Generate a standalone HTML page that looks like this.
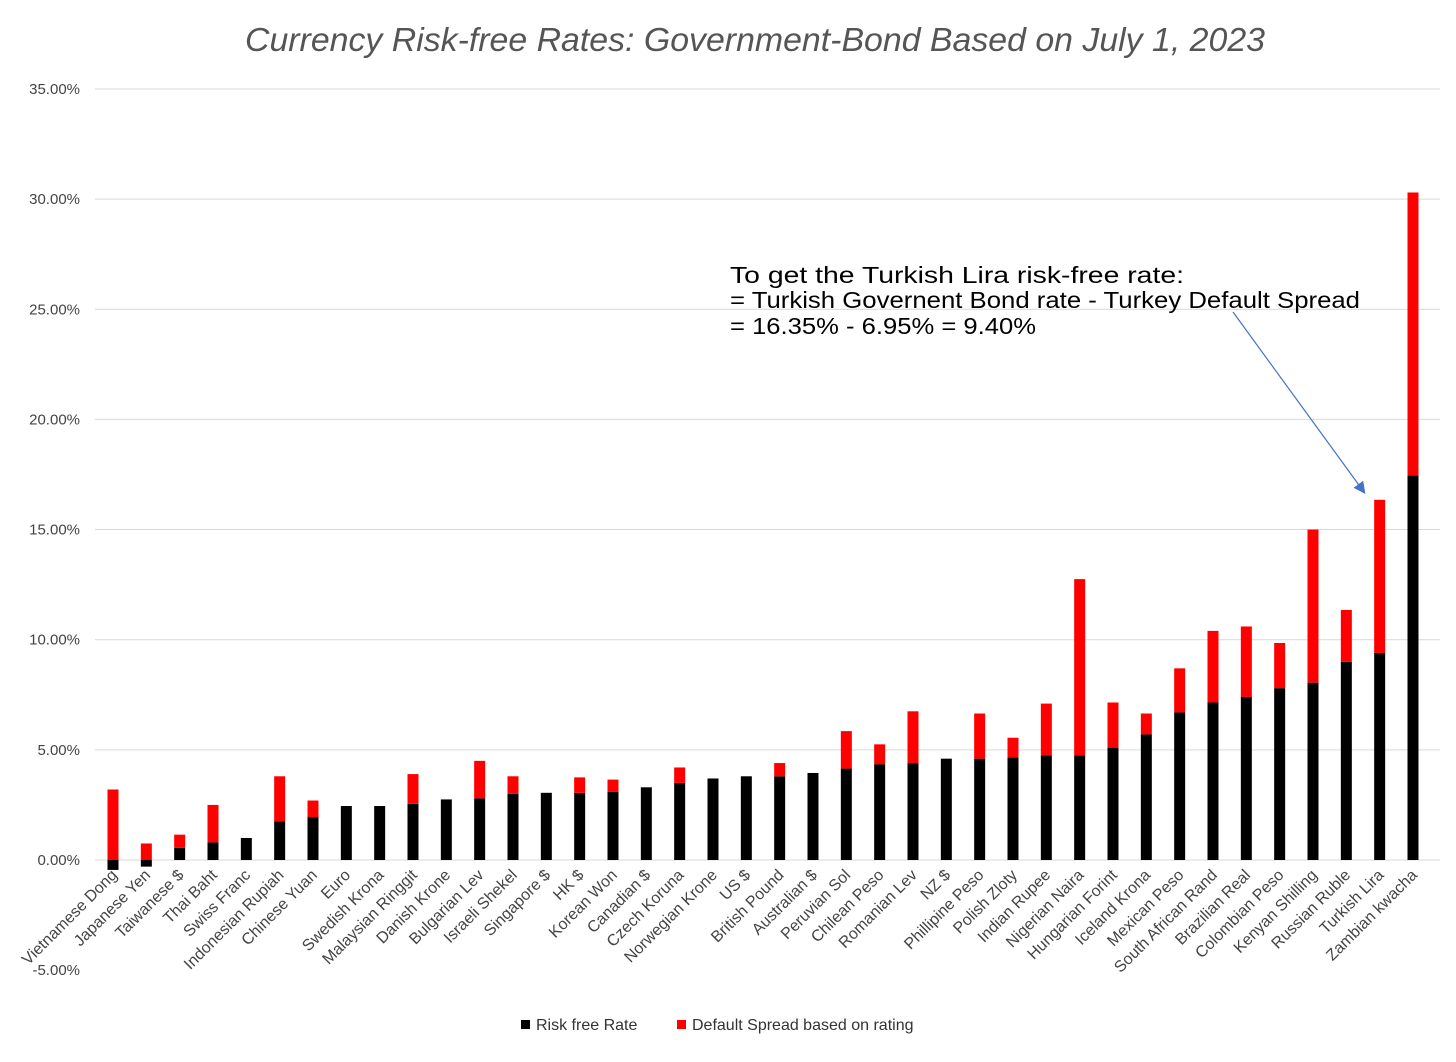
<!DOCTYPE html>
<html><head><meta charset="utf-8"><style>
body{margin:0;background:#fff;width:1456px;height:1057px;overflow:hidden}
svg text{font-family:"Liberation Sans",Arial,sans-serif}
</style></head><body>
<svg id="c" width="1456" height="1057">
<text x="245" y="51" textLength="1020" lengthAdjust="spacingAndGlyphs" font-size="33" font-style="italic" fill="#555">Currency Risk-free Rates: Government-Bond Based on July 1, 2023</text>
<g id="grid"></g><g id="bars"></g><g id="labels"></g>
<g font-size="23" fill="#000">
<text x="730" y="283" textLength="454" lengthAdjust="spacingAndGlyphs">To get the Turkish Lira risk-free rate:</text>
<text x="730" y="308" textLength="630" lengthAdjust="spacingAndGlyphs">= Turkish Governent Bond rate - Turkey Default Spread</text>
<text x="730" y="334" textLength="306" lengthAdjust="spacingAndGlyphs">= 16.35% - 6.95% = 9.40%</text>
</g>
<defs><marker id="ah" markerWidth="10" markerHeight="10" refX="8" refY="5" orient="auto"><path d="M0,0 L10,5 L0,10 z" fill="#4472C4"/></marker></defs>
<line x1="1233" y1="312" x2="1364" y2="492" stroke="#4472C4" stroke-width="1.2" marker-end="url(#ah)"/>
<g font-size="16" fill="#333">
<rect x="521" y="1020" width="9" height="9" fill="#000"/>
<text x="536" y="1030">Risk free Rate</text>
<rect x="677" y="1020" width="9" height="9" fill="#f00"/>
<text x="692" y="1030">Default Spread based on rating</text>
</g>
</svg>
<script>
const categories=["Vietnamese Dong","Japanese Yen","Taiwanese $","Thai Baht","Swiss Franc","Indonesian Rupiah","Chinese Yuan","Euro","Swedish Krona","Malaysian Ringgit","Danish Krone","Bulgarian Lev","Israeli Shekel","Singapore $","HK $","Korean Won","Canadian $","Czech Koruna","Norwegian Krone","US $","British Pound","Australian $","Peruvian Sol","Chilean Peso","Romanian Lev","NZ $","Phillipine Peso","Polish Zloty","Indian Rupee","Nigerian Naira","Hungarian Forint","Iceland Krona","Mexican Peso","South African Rand","Brazilian Real","Colombian Peso","Kenyan Shilling","Russian Ruble","Turkish Lira","Zambian kwacha"];
const riskFree=[-0.45,-0.3,0.55,0.8,1.0,1.75,1.95,2.45,2.45,2.55,2.75,2.8,3.0,3.05,3.05,3.1,3.3,3.5,3.7,3.8,3.8,3.95,4.15,4.35,4.4,4.6,4.6,4.65,4.75,4.75,5.1,5.7,6.7,7.15,7.4,7.8,8.05,9.0,9.4,17.45];
const spread=[3.2,0.75,0.6,1.7,0,2.05,0.75,0,0,1.35,0,1.7,0.8,0,0.7,0.55,0,0.7,0,0,0.6,0,1.7,0.9,2.35,0,2.05,0.9,2.35,8.0,2.05,0.95,2.0,3.25,3.2,2.05,6.95,2.35,6.95,12.85];
const yTicks=[-5,0,5,10,15,20,25,30,35];
const NS="http://www.w3.org/2000/svg";
const y=v=>860-v*22.03;
const x=i=>113+i*(1300/(categories.length-1));
function mk(t,a,p){const e=document.createElementNS(NS,t);for(const k in a)e.setAttribute(k,a[k]);p.appendChild(e);return e;}
const grid=document.getElementById('grid'),bars=document.getElementById('bars'),labels=document.getElementById('labels');
yTicks.forEach(t=>{
 if(t>-5){const l=mk('line',{x1:95,x2:1440,y1:y(t),y2:y(t),stroke:'#d9d9d9','stroke-width':1},grid);
 
 }
 const tx=mk('text',{x:80,y:y(t)+5,'text-anchor':'end','font-size':15,fill:'#444'},grid);
 tx.textContent=t.toFixed(2)+'%';
 
 
});
const w=11;
categories.forEach((c,i)=>{
 const rf=riskFree[i],sp=spread[i],cx=x(i);
 const b=mk('rect',{x:cx-w/2,y:Math.min(y(rf),y(0)),width:w,height:Math.abs(y(rf)-y(0)),fill:'#000'},bars);
 
 
 const base=Math.max(rf,0);
 const r=mk('rect',{x:cx-w/2,y:y(base+sp),width:w,height:y(base)-y(base+sp),fill:'#f00'},bars);
 
 
 const lt=mk('text',{x:cx+5,y:876,'text-anchor':'end','font-size':16,fill:'#444',transform:`rotate(-45 ${cx+5} 876)`},labels);
 lt.textContent=c;
 
 
});
</script>
</body></html>
